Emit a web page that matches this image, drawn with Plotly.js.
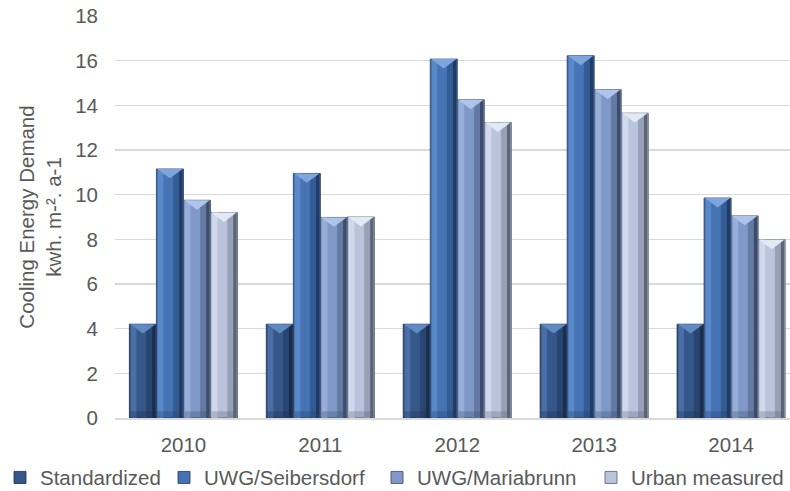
<!DOCTYPE html>
<html>
<head>
<meta charset="utf-8">
<script src="https://cdn.plot.ly/plotly-3.0.1.min.js"></script>
<style>
  html, body { margin: 0; padding: 0; background: #ffffff; overflow: hidden; }
  #chart { width: 790px; height: 491px; }
</style>
</head>
<body>
<div id="chart"></div>
<script>
// Annual cooling energy demand (kWh per m² per year), four estimation methods
const years = [2010, 2011, 2012, 2013, 2014];
const seriesNames = ['Standardized', 'UWG/Seibersdorf', 'UWG/Mariabrunn', 'Urban measured'];
const standardized = [4.2, 4.2, 4.2, 4.2, 4.2];
const seibersdorf = [11.15, 10.95, 16.07, 16.22, 9.85];
const mariabrunn = [9.75, 8.98, 14.25, 14.7, 9.05];
const urbanMeasured = [9.2, 9.0, 13.23, 13.65, 7.98];
const yTicks = [0, 2, 4, 6, 8, 10, 12, 14, 16, 18];

const seriesValues = [standardized, seibersdorf, mariabrunn, urbanMeasured];

// Bevel palette per series: body, left highlight, right shade, right edge, top chevron, outline
const palettes = [
  { body: '#35578a', light: '#4a6ea6', shade: '#294673', dark: '#1b2e4c', cap: '#6189c4', line: '#1c2b44' },
  { body: '#4673b3', light: '#5a89ca', shade: '#345c94', dark: '#203c66', cap: '#7ea5de', line: '#22375a' },
  { body: '#7f98c8', light: '#97aed9', shade: '#647aa3', dark: '#3d4c69', cap: '#aec4eb', line: '#3c4860' },
  { body: '#b9c4dc', light: '#d0d9eb', shade: '#97a1b6', dark: '#5b6376', cap: '#e2e9f5', line: '#555c6b' }
];

// one single-entry legend per series, laid out left to right under the axis
const legendIds = ['legend', 'legend2', 'legend3', 'legend4'];
const legendLeft = [0, 164, 377, 591];   // px from the left edge of the figure

const groupWidth = 0.79;
const barWidth = groupWidth / 4;
const capDepth = 0.42;     // depth of the top chevron, in data units
const footDepth = 0.3;     // dark bevel at the foot of each bar

const traces = [];

seriesValues.forEach((vals, i) => {
  const p = palettes[i];
  const off = -groupWidth / 2 + i * barWidth;

  // main body (legend entry)
  traces.push({
    type: 'bar', x: years, y: vals, name: seriesNames[i],
    offset: off, width: barWidth,
    marker: { color: p.body, line: { color: p.line, width: 0.8 } },
    showlegend: true, legend: legendIds[i]
  });
  // left highlight strip
  traces.push({
    type: 'bar', x: years, y: vals, showlegend: false,
    offset: off + 0.06 * barWidth, width: 0.2 * barWidth,
    marker: { color: p.light, line: { width: 0 } }
  });
  // right shading strips
  traces.push({
    type: 'bar', x: years, y: vals, showlegend: false,
    offset: off + 0.62 * barWidth, width: 0.22 * barWidth,
    marker: { color: p.shade, line: { width: 0 } }
  });
  traces.push({
    type: 'bar', x: years, y: vals, showlegend: false,
    offset: off + 0.84 * barWidth, width: 0.13 * barWidth,
    marker: { color: p.dark, line: { width: 0 } }
  });
  // foot bevel
  traces.push({
    type: 'bar', x: years, y: vals.map(() => footDepth), showlegend: false,
    offset: off + 0.04 * barWidth, width: 0.92 * barWidth,
    marker: { color: p.dark, opacity: 0.3, line: { width: 0 } }
  });
  // top chevron drawn as filled triangles from each bar's value
  const cx = [], cy = [];
  years.forEach((yr, k) => {
    const left = yr + off + 0.03 * barWidth;
    const right = yr + off + 0.97 * barWidth;
    const mid = yr + off + 0.5 * barWidth;
    cx.push(left, mid, right, left, null);
    cy.push(vals[k], vals[k] - capDepth, vals[k], vals[k], null);
  });
  traces.push({
    type: 'scatter', mode: 'lines', x: cx, y: cy, fill: 'toself',
    fillcolor: p.cap, line: { width: 0, color: p.cap },
    showlegend: false, hoverinfo: 'skip', connectgaps: false
  });
});

const textColor = '#595959';
const gridColor = '#d9d9d9';
const fontFamily = 'Liberation Sans, Arial, sans-serif';
const W = 790, H = 491;

const layout = {
  width: W, height: H,
  margin: { l: 115, r: 0, t: 15.5, b: 73, pad: 0, autoexpand: false },
  paper_bgcolor: '#ffffff', plot_bgcolor: '#ffffff',
  barmode: 'overlay',
  font: { family: fontFamily, size: 20, color: textColor },
  xaxis: {
    range: [2009.5, 2014.43],
    tickvals: years, ticktext: years.map(String),
    showgrid: false, zeroline: false,
    showline: true, linecolor: gridColor, linewidth: 1.5,
    ticks: '', ticklabelstandoff: 8,
    tickfont: { family: fontFamily, size: 20.5, color: textColor },
    automargin: false, fixedrange: true
  },
  yaxis: {
    range: [0, 18], tickvals: yTicks,
    showgrid: true, gridcolor: gridColor, gridwidth: 1.3,
    zeroline: false, showline: false, ticks: '',
    ticklabelstandoff: 16,
    tickfont: { family: fontFamily, size: 20.5, color: textColor },
    title: {
      text: 'Cooling Energy Demand<br>kwh. m-². a-1',
      font: { family: fontFamily, size: 20.5, color: textColor },
      standoff: 8
    },
    automargin: false, fixedrange: true
  },
  showlegend: true,
  hovermode: false
};

legendIds.forEach((id, i) => {
  layout[id] = {
    orientation: 'h', xref: 'container', yref: 'container',
    x: legendLeft[i] / W, xanchor: 'left', y: 0.068, yanchor: 'top',
    font: { family: fontFamily, size: 20.5, color: textColor },
    itemwidth: 30, bgcolor: 'rgba(0,0,0,0)'
  };
});

Plotly.newPlot('chart', traces, layout, { staticPlot: true, displayModeBar: false });
</script>
</body>
</html>
